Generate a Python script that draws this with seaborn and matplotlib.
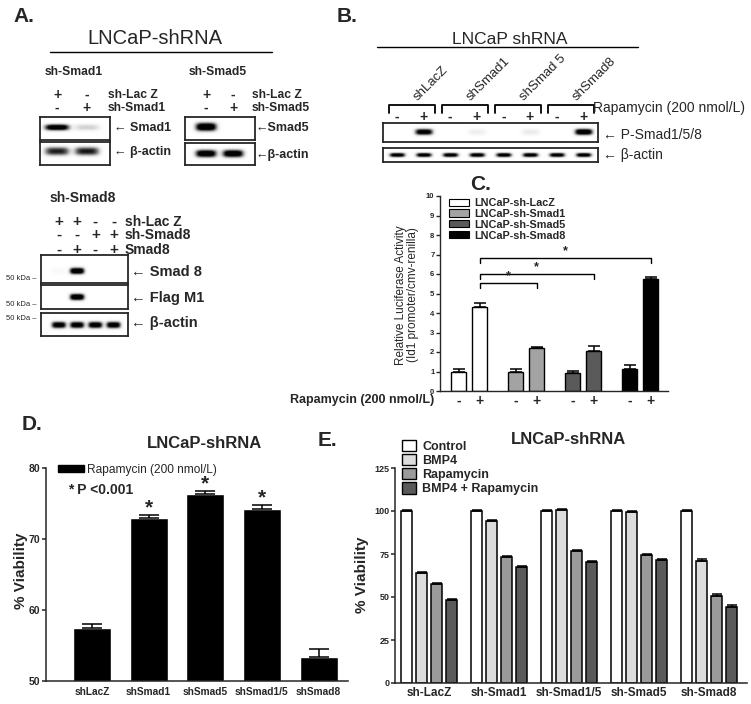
import numpy as np
import pandas as pd
import seaborn as sns
import matplotlib.pyplot as plt
from matplotlib import transforms
from matplotlib.patches import Patch
from matplotlib.lines import Line2D

W, H = 751, 704

# --- panel C: Id1 luciferase reporter
luc_lines = ["LNCaP-sh-LacZ", "LNCaP-sh-Smad1", "LNCaP-sh-Smad5", "LNCaP-sh-Smad8"]
luc_minus = [1.0, 0.97, 0.92, 1.15]
luc_plus = [4.32, 2.22, 2.05, 5.75]
luc_minus_err = [0.12, 0.18, 0.12, 0.20]
luc_plus_err = [0.18, 0.05, 0.25, 0.12]
luc_colors = ["white", "#a3a3a3", "#5a5a5a", "black"]
luc_brackets = [5.56, 6.02, 6.84]  # LacZ+ vs Smad1+, Smad5+, Smad8+

# --- panel D: viability with rapamycin
via_cells = ["shLacZ", "shSmad1", "shSmad5", "shSmad1/5", "shSmad8"]
via_rapa = [57.4, 72.9, 76.3, 74.2, 53.4]
via_err = [0.6, 0.45, 0.5, 0.65, 1.15]
via_sig = [False, True, True, True, False]

# --- panel E: viability with BMP4 / rapamycin
e_cells = ["sh-LacZ", "sh-Smad1", "sh-Smad1/5", "sh-Smad5", "sh-Smad8"]
e_treat = ["Control", "BMP4", "Rapamycin", "BMP4 + Rapamycin"]
e_control = [100, 100, 100, 100, 100]
e_bmp4 = [64.2, 94.4, 100.4, 99.6, 71.0]
e_rapa = [57.5, 73.2, 76.7, 74.5, 50.6]
e_combo = [48.2, 67.6, 70.4, 71.6, 44.3]
e_control_err = [0.4, 0.3, 0.4, 0.3, 0.3]
e_bmp4_err = [0.4, 0.5, 0.7, 0.3, 1.2]
e_rapa_err = [0.6, 0.4, 0.5, 0.6, 1.1]
e_combo_err = [0.4, 0.4, 0.3, 0.4, 0.9]
e_colors = ["white", "#dcdcdc", "#9a9a9a", "#5a5a5a"]

# --- western blot band intensities (0 = no band, 1 = saturated)
smad1_band = [0.95, 0.22]
smad1_actin = [0.70, 0.72]
smad5_band = [1.0, 0.0]
smad5_actin = [0.95, 0.95]
smad8_band = [0.04, 1.0, 0.0, 0.0]
flag_band = [0.0, 1.0, 0.0, 0.0]
smad8_actin = [0.9, 0.9, 0.9, 0.9]
psmad_band = [0.0, 0.9, 0.0, 0.1, 0.0, 0.12, 0.0, 1.0]
b_actin = [0.9] * 8
b_groups = ["shLacZ", "shSmad1", "shSmad 5", "shSmad8"]


def box(x0, y0, x1, y1):
    return [x0 / W, 1 - y1 / H, (x1 - x0) / W, (y1 - y0) / H]


def put(fig, x, y, s, **kw):
    kw.setdefault("va", "center")
    fig.text(x / W, 1 - y / H, s, **kw)


def hline(fig, x0, x1, y, lw=1.0):
    fig.add_artist(Line2D([x0 / W, x1 / W], [1 - y / H] * 2,
                          color="black", lw=lw))


def draw_blot(fig, rect, levels, xlim, band_w, band_h, yc=0.5):
    ax = fig.add_axes(box(*rect))
    xs = np.linspace(xlim[0], xlim[1], 400)
    ys = np.linspace(0, 1, 100)
    X, Y = np.meshgrid(xs, ys)
    img = np.zeros_like(X)
    for lane, level in enumerate(levels):
        img += (1.3 * level * np.exp(-np.abs((X - lane) / band_w) ** 4)
                * np.exp(-np.abs((Y - yc) / band_h) ** 2.5))
    ax.imshow(np.clip(img, 0, 1), extent=(xlim[0], xlim[1], 0, 1),
              origin="lower", cmap="Greys", vmin=0, vmax=1, aspect="auto",
              interpolation="bilinear")
    ax.set_xlim(xlim)
    ax.set_ylim(0, 1)
    ax.set_xticks([])
    ax.set_yticks([])
    for s in ax.spines.values():
        s.set_visible(True)
        s.set_linewidth(1.3)
    return ax


def lane_rows(fig, ax, rows, ys, size):
    tr = transforms.blended_transform_factory(ax.transData, fig.transFigure)
    for row, y in zip(rows, ys):
        for lane, sign in enumerate(row):
            ax.text(lane, 1 - y / H, sign, transform=tr, ha="center",
                    va="center", fontsize=size, fontweight="bold")


def add_errorbars(ax, bars, values, errs, cap):
    centers = [b.get_x() + b.get_width() / 2 for b in bars]
    ax.errorbar(centers, values, yerr=[np.zeros(len(errs)), errs],
                fmt="none", ecolor="black", elinewidth=1.1, capsize=cap,
                capthick=1.1, zorder=3)
    return centers


sns.set_style("ticks")
plt.rcParams["font.family"] = ["Liberation Sans", "DejaVu Sans"]

fig = plt.figure(figsize=(W / 100, H / 100), dpi=100)

# ================= panel A =================
put(fig, 13, 17, "A.", fontsize=15, fontweight="bold")
put(fig, 155, 38, "LNCaP-shRNA", fontsize=14.5, ha="center")
hline(fig, 50, 272, 52)
put(fig, 45, 72, "sh-Smad1", fontsize=8.7, fontweight="bold")
put(fig, 189, 72, "sh-Smad5", fontsize=8.7, fontweight="bold")

ax = draw_blot(fig, (40, 117, 110, 140), smad1_band, (-0.57, 1.77), 0.42, 0.14, 0.55)
lane_rows(fig, ax, [["+", "-"], ["-", "+"]], [95, 108], 10)
draw_blot(fig, (40, 142, 110, 165), smad1_actin, (-0.57, 1.77), 0.42, 0.19, 0.6)
put(fig, 108, 95, "sh-Lac Z", fontsize=8.7, fontweight="bold")
put(fig, 108, 108, "sh-Smad1", fontsize=8.7, fontweight="bold")
put(fig, 114, 128, "\u2190 Smad1", fontsize=9, fontweight="bold")
put(fig, 114, 152, "\u2190 \u03b2-actin", fontsize=9, fontweight="bold")

ax = draw_blot(fig, (185, 117, 255, 140), smad5_band, (-0.78, 1.81), 0.4, 0.19, 0.57)
lane_rows(fig, ax, [["+", "-"], ["-", "+"]], [95, 108], 10)
draw_blot(fig, (185, 143, 255, 165), smad5_actin, (-0.78, 1.81), 0.4, 0.18, 0.52)
put(fig, 252, 95, "sh-Lac Z", fontsize=8.7, fontweight="bold")
put(fig, 252, 108, "sh-Smad5", fontsize=8.7, fontweight="bold")
put(fig, 256, 128, "\u2190Smad5", fontsize=9, fontweight="bold")
put(fig, 256, 155, "\u2190\u03b2-actin", fontsize=9, fontweight="bold")

put(fig, 50, 198, "sh-Smad8", fontsize=10, fontweight="bold")
ax = draw_blot(fig, (41, 255, 128, 283), smad8_band, (-0.98, 3.79), 0.41, 0.12, 0.43)
lane_rows(fig, ax, [["+", "+", "-", "-"], ["-", "-", "+", "+"],
                    ["-", "+", "-", "+"]], [222, 235, 250], 11)
draw_blot(fig, (41, 285, 128, 309), flag_band, (-0.98, 3.79), 0.41, 0.14, 0.5)
draw_blot(fig, (41, 313, 128, 336), smad8_actin, (-0.98, 3.79), 0.41, 0.15, 0.48)
put(fig, 125, 222, "sh-Lac Z", fontsize=10, fontweight="bold")
put(fig, 125, 235, "sh-Smad8", fontsize=10, fontweight="bold")
put(fig, 125, 250, "Smad8", fontsize=10, fontweight="bold")
for y in [278, 305, 318]:
    put(fig, 6, y, "50 kDa \u2013", fontsize=5.5)
put(fig, 131, 272, "\u2190 Smad 8", fontsize=10.5, fontweight="bold")
put(fig, 131, 298, "\u2190 Flag M1", fontsize=10.5, fontweight="bold")
put(fig, 131, 323, "\u2190 \u03b2-actin", fontsize=10.5, fontweight="bold")

# ================= panel B =================
put(fig, 337, 17, "B.", fontsize=15, fontweight="bold")
put(fig, 510, 39, "LNCaP shRNA", fontsize=12.5, ha="center")
hline(fig, 377, 638, 47)
b_xlim = (-0.53, 7.56)
ax = draw_blot(fig, (383, 123, 598, 142), psmad_band, b_xlim, 0.34, 0.17, 0.53)
lane_rows(fig, ax, [["-", "+"] * 4], [117], 10)
tr = transforms.blended_transform_factory(ax.transData, fig.transFigure)
for k, name in enumerate(b_groups):
    ax.plot([2 * k - 0.32, 2 * k - 0.32, 2 * k + 1.42, 2 * k + 1.42],
            [1 - 113 / H, 1 - 105 / H, 1 - 105 / H, 1 - 113 / H],
            color="black", lw=1.3, transform=tr, clip_on=False)
    ax.text(2 * k + 0.85, 1 - 103 / H, name, rotation=45,
            rotation_mode="anchor", ha="left", va="bottom", fontsize=9.5,
            transform=tr)
draw_blot(fig, (383, 148, 598, 162), b_actin, b_xlim, 0.3, 0.16, 0.5)
put(fig, 593, 108, "Rapamycin (200 nmol/L)", fontsize=10)
put(fig, 603, 135, "\u2190 P-Smad1/5/8", fontsize=10)
put(fig, 603, 155, "\u2190 \u03b2-actin", fontsize=10)

# ================= panel C =================
put(fig, 470, 185, "C.", fontsize=15, fontweight="bold")
luc_df = pd.DataFrame({
    "line": np.repeat(luc_lines, 2),
    "rapa": ["-", "+"] * len(luc_lines),
    "value": [v for pair in zip(luc_minus, luc_plus) for v in pair],
    "err": [v for pair in zip(luc_minus_err, luc_plus_err) for v in pair],
})
ax_c = fig.add_axes(box(440, 196, 668, 391))
sns.barplot(data=luc_df, x="line", y="value", hue="rapa", order=luc_lines,
            hue_order=["-", "+"], palette=["white", "white"], width=0.74,
            gap=0.29, errorbar=None, legend=False, edgecolor="black",
            linewidth=1.0, saturation=1, ax=ax_c)
bars = sorted(ax_c.patches, key=lambda p: p.get_x())
for bar, color in zip(bars, np.repeat(luc_colors, 2)):
    bar.set_facecolor(color)
centers = add_errorbars(ax_c, bars, luc_df["value"], luc_df["err"], 4)
ax_c.set_xlim(-0.51, 3.49)
ax_c.set_ylim(0, 10)
ax_c.set_yticks(range(11))
ax_c.set_xticks(centers, luc_df["rapa"], fontsize=10, fontweight="bold")
ax_c.tick_params(axis="x", length=0, pad=2)
ax_c.tick_params(axis="y", length=3, width=1, labelsize=5.5, pad=1)
for lab in ax_c.get_yticklabels():
    lab.set_fontweight("bold")
ax_c.set_xlabel("")
ax_c.set_ylabel("")
sns.despine(ax=ax_c)
for s in ["left", "bottom"]:
    ax_c.spines[s].set_linewidth(1.0)
# significance brackets from LacZ + to the other + bars
for level, target in zip(luc_brackets, [3, 5, 7]):
    x0, x1 = centers[1], centers[target]
    ax_c.plot([x0, x0, x1, x1], [level - 0.27, level, level, level - 0.27],
              color="black", lw=1.0)
    ax_c.text((x0 + x1) / 2, level + 0.02, "*", ha="center", va="bottom",
              fontsize=9, fontweight="bold")
ax_c.legend(handles=[Patch(facecolor=c, edgecolor="black", lw=0.8)
                     for c in luc_colors], labels=luc_lines,
            loc="upper left", bbox_to_anchor=(0.04, 0.99), frameon=False,
            prop={"size": 7.8, "weight": "bold"}, handlelength=1.8,
            handleheight=0.65, labelspacing=0.08, borderaxespad=0,
            borderpad=0, handletextpad=0.5)
put(fig, 407, 295, "Relative Luciferase Activity\n(Id1 promoter/cmv-renilla)",
    fontsize=8.5, rotation=90, ha="center", linespacing=1.1)
put(fig, 290, 400, "Rapamycin (200 nmol/L)", fontsize=9, fontweight="bold")

# ================= panel D =================
put(fig, 22, 425, "D.", fontsize=15, fontweight="bold")
put(fig, 205, 443, "LNCaP-shRNA", fontsize=12, fontweight="bold", ha="center")
ax_d = fig.add_axes(box(46, 468, 348, 681))
sns.barplot(x=via_cells, y=via_rapa, color="black", width=0.67,
            errorbar=None, saturation=1, ax=ax_d)
bars = sorted(ax_d.patches, key=lambda p: p.get_x())
centers = add_errorbars(ax_d, bars, via_rapa, via_err, 7)
for cx, v, e, sig in zip(centers, via_rapa, via_err, via_sig):
    if sig:
        ax_d.text(cx, v + e + 1.0, "*", ha="center", va="center",
                  fontsize=15, fontweight="bold")
ax_d.set_xlim(-0.81, 4.52)
ax_d.set_ylim(50, 80)
ax_d.set_yticks([50, 60, 70, 80])
ax_d.tick_params(axis="x", length=0, labelsize=7.3, pad=4)
ax_d.tick_params(axis="y", length=3, width=1.1, labelsize=7.5, pad=1)
for lab in ax_d.get_xticklabels() + ax_d.get_yticklabels():
    lab.set_fontweight("bold")
sns.despine(ax=ax_d)
for s in ["left", "bottom"]:
    ax_d.spines[s].set_linewidth(1.1)
ax_d.legend(handles=[Patch(facecolor="black", edgecolor="black")],
            labels=["Rapamycin (200 nmol/L)"], loc="upper left",
            bbox_to_anchor=(0.04, 1.02), frameon=False, fontsize=8.6,
            handlelength=2.2, handleheight=0.5, borderaxespad=0,
            borderpad=0, handletextpad=0.2)
put(fig, 68, 490, "* P <0.001", fontsize=10, fontweight="bold")
put(fig, 21, 571, "% Viability", fontsize=11, fontweight="bold",
    rotation=90, ha="center")

# ================= panel E =================
put(fig, 318, 440, "E.", fontsize=15, fontweight="bold")
put(fig, 569, 439, "LNCaP-shRNA", fontsize=12, fontweight="bold", ha="center")
e_values = [e_control, e_bmp4, e_rapa, e_combo]
e_errs = [e_control_err, e_bmp4_err, e_rapa_err, e_combo_err]
e_df = pd.DataFrame({
    "cell": np.repeat(e_cells, len(e_treat)),
    "treat": e_treat * len(e_cells),
    "value": [e_values[t][c] for c in range(len(e_cells))
              for t in range(len(e_treat))],
    "err": [e_errs[t][c] for c in range(len(e_cells))
            for t in range(len(e_treat))],
})
ax_e = fig.add_axes(box(395, 468, 747, 683))
sns.barplot(data=e_df, x="cell", y="value", hue="treat", order=e_cells,
            hue_order=e_treat, palette=e_colors, width=0.857, gap=0.29,
            errorbar=None, legend=False, edgecolor="black", linewidth=1.1,
            saturation=1, ax=ax_e)
bars = sorted(ax_e.patches, key=lambda p: p.get_x())
add_errorbars(ax_e, bars, e_df["value"], e_df["err"], 3.5)
ax_e.set_xlim(-0.49, 4.54)
ax_e.set_ylim(0, 125)
ax_e.set_yticks([0, 25, 50, 75, 100, 125])
ax_e.set_xlabel("")
ax_e.set_ylabel("")
ax_e.tick_params(axis="x", length=0, labelsize=8.5, pad=3)
ax_e.tick_params(axis="y", length=3, width=1.1, labelsize=6.5, pad=1)
for lab in ax_e.get_xticklabels() + ax_e.get_yticklabels():
    lab.set_fontweight("bold")
sns.despine(ax=ax_e)
for s in ["left", "bottom"]:
    ax_e.spines[s].set_linewidth(1.1)
ax_e.legend(handles=[Patch(facecolor=c, edgecolor="black", lw=1.0)
                     for c in e_colors], labels=e_treat,
            loc="upper left", bbox_to_anchor=(0.02, 1.13), frameon=False,
            prop={"size": 9, "weight": "bold"}, handlelength=1.1,
            handleheight=1.0, labelspacing=0.1, borderaxespad=0,
            borderpad=0, handletextpad=0.5)
put(fig, 362, 575, "% Viability", fontsize=11, fontweight="bold",
    rotation=90, ha="center")

fig.savefig("out.png", dpi=100)
